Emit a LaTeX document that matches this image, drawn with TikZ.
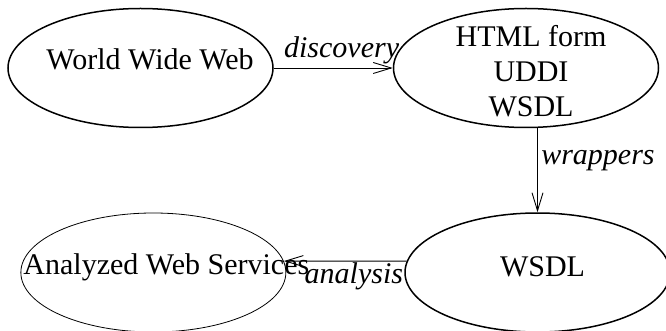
\documentclass[tikz,border=0pt]{standalone}
\usepackage{fontspec}
\setmainfont{Liberation Serif}
\usetikzlibrary{shapes.geometric, positioning, arrows.meta}

% text that does not widen the oval: #1 = twice the x offset, #2 = lift
\newcommand{\ovaltext}[3]{\raisebox{#2}[0pt][0pt]{\makebox[0pt]{\hspace*{#1}#3}}}

\begin{document}
\begin{tikzpicture}[x=1pt, y=1pt, auto, every node/.style={font=\fontsize{30}{35}\selectfont}]
    \tikzstyle{oval} = [ellipse, draw, line width=1.5pt, minimum width=265pt, minimum height=119pt, inner sep=0pt]
    \tikzstyle{flow} = [-{Straight Barb[length=18pt, width=11pt]}, line width=0.9pt]
    \tikzstyle{lbl} = [font=\fontsize{30}{35}\selectfont\itshape]
    \useasboundingbox (0,0) rectangle (666,-331);

    \node [oval] (www) at (140.5,-68) {\ovaltext{19pt}{-2pt}{World Wide Web}};
    \node [oval, right=119pt of www] (src) {\ovaltext{10pt}{-13pt}{\begin{tabular}{@{}c@{}}HTML form\\UDDI\\WSDL\end{tabular}}};
    \node [oval, below=84pt of src, xshift=11.5pt] (wsdl) {\ovaltext{10pt}{-4pt}{WSDL}};
    \node [oval, line width=0.8pt, left=118pt of wsdl] (ana) {\ovaltext{26pt}{-2pt}{Analyzed Web Services}};

    \draw [flow] (www) -- node [lbl, above, pos=0.57] {discovery} (src);
    \draw [flow] (src.south -| wsdl.north) -- node [lbl, right, pos=0.38] {wrappers} (wsdl.north);
    \draw [flow] (wsdl.175) -- node [lbl, below, pos=0.43, inner sep=1.5pt] {analysis} (ana.5);
\end{tikzpicture}
\end{document}
